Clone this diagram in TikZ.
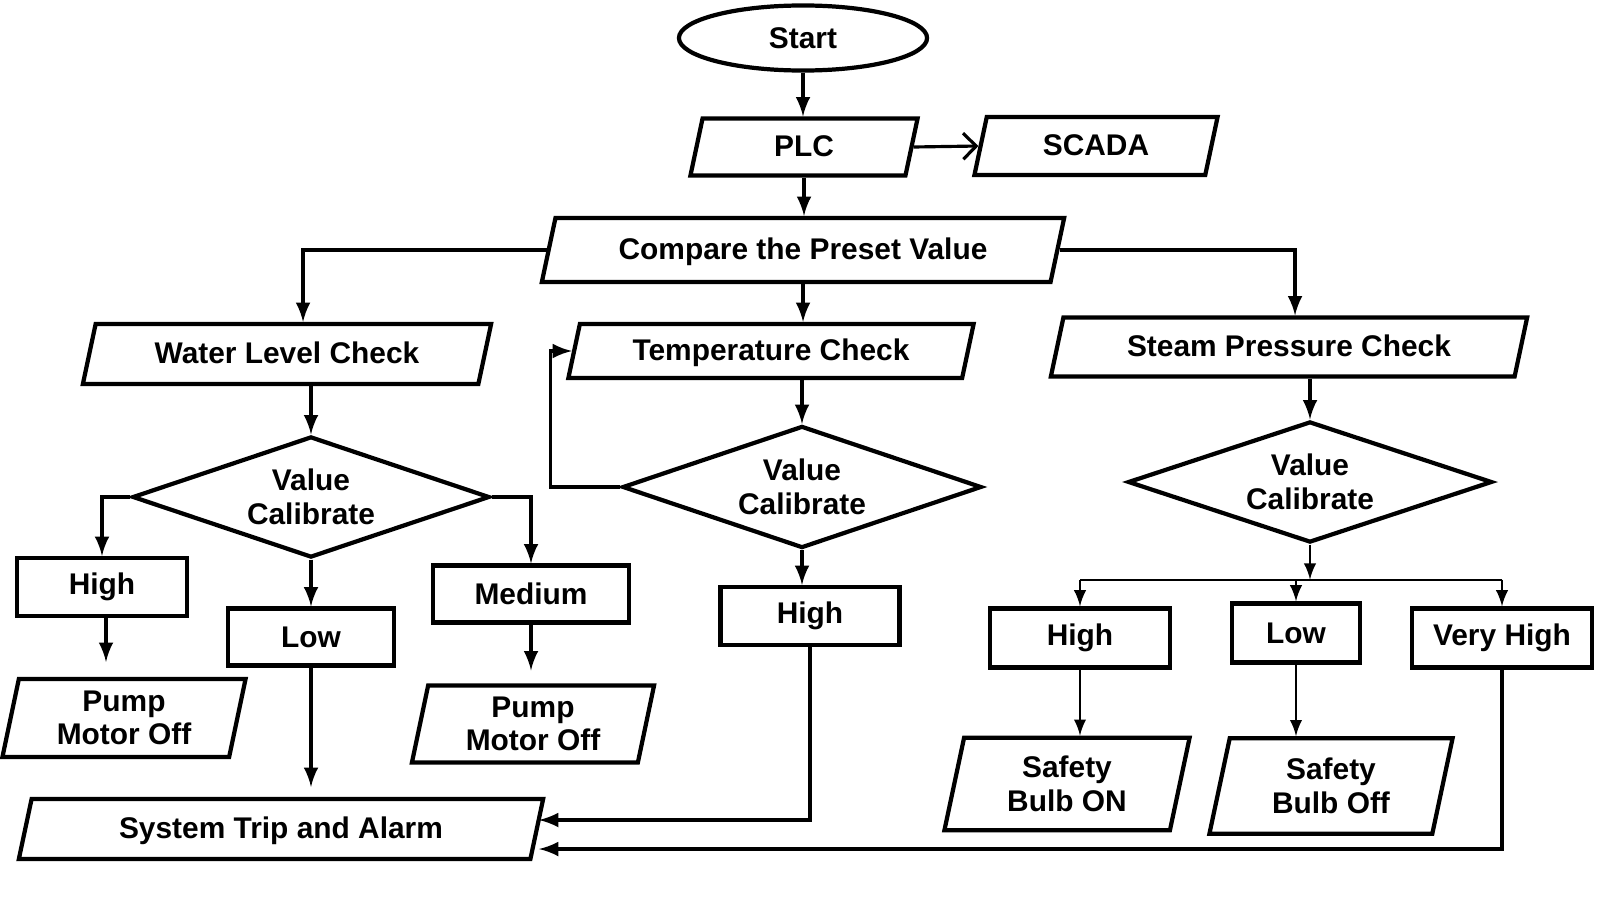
\documentclass[tikz,border=0pt]{standalone}
\usepackage{fontspec}
\setmainfont{Liberation Sans}
\usetikzlibrary{positioning, arrows, arrows.meta, shapes.geometric, calc}
\tikzset{
  terminal/.style={
    draw, ellipse, line width=1.2pt, inner sep=0pt
  },
  io/.style={
    draw, trapezium, trapezium left angle=78, trapezium right angle=102,
    trapezium stretches body, line width=1.2pt, inner xsep=0pt, align=center,
    text height=0.23cm, text depth=0.05cm
  },
  iotwo/.style={
    draw, trapezium, trapezium left angle=78, trapezium right angle=102,
    trapezium stretches body, line width=1.2pt, inner xsep=0pt, align=center
  },
  decision/.style={
    draw, diamond, aspect=3, line width=1.2pt, inner sep=0pt, align=center
  },
  level/.style={
    draw, rectangle, line width=1.2pt, inner sep=0pt, align=center
  },
  thinline/.style={line width=0.6pt}
}

\begin{document}
\begin{tikzpicture}[x=0.01cm, y=-0.01cm, -latex, line width=0.9pt,
    font=\bfseries\fontsize{8.5}{9.5}\selectfont]
    \useasboundingbox (0,0) rectangle (1600,900);

    % top part
    \node[terminal, minimum width=2.48cm, minimum height=0.65cm] (start) at (803,38) {Start};
    \node[io, minimum width=2.27cm, inner ysep=0.145cm] (plc) at (804,147) {PLC};
    \node[io, minimum width=2.43cm, inner ysep=0.15cm] (scada) at (1096,146) {SCADA};
    \node[io, minimum width=5.22cm, inner ysep=0.18cm] (cmp) at (803,250) {Compare the Preset Value};

    % the three checks
    \node[io, minimum width=4.08cm, inner ysep=0.16cm] (wlc) at (287,354) {Water Level Check};
    \node[io, minimum width=4.05cm, inner ysep=0.13cm] (tmp) at (771,351) {Temperature Check};
    \node[io, minimum width=4.76cm, inner ysep=0.155cm] (spc) at (1289,347) {Steam Pressure Check};

    \node[decision, minimum width=3.57cm, minimum height=1.21cm] (d1) at (311,497) {Value\\Calibrate};
    \node[decision, minimum width=3.59cm, minimum height=1.22cm] (d2) at (802,487) {Value\\Calibrate};
    \node[decision, minimum width=3.64cm, minimum height=1.21cm] (d3) at (1310,482) {Value\\Calibrate};

    % levels
    \node[level, minimum width=1.70cm, minimum height=0.58cm] (h1) at (102,587) {High};
    \node[level, minimum width=1.66cm, minimum height=0.57cm] (l1) at (311,637) {Low};
    \node[level, minimum width=1.96cm, minimum height=0.57cm] (m1) at (531,594) {Medium};
    \node[level, minimum width=1.79cm, minimum height=0.58cm] (h2) at (810,616) {High};
    \node[level, minimum width=1.80cm, minimum height=0.59cm] (h3) at (1080,638) {High};
    \node[level, minimum width=1.28cm, minimum height=0.59cm] (l3) at (1296,633) {Low};
    \node[level, minimum width=1.80cm, minimum height=0.59cm] (vh) at (1502,638) {Very High};

    % actions
    \node[iotwo, minimum width=2.43cm, minimum height=0.78cm, inner ysep=0.115cm] (pm1) at (124,718) {Pump\\Motor Off};
    \node[iotwo, minimum width=2.42cm, minimum height=0.77cm, inner ysep=0.11cm] (pm2) at (533,724) {Pump\\Motor Off};
    \node[io, minimum width=5.24cm, inner ysep=0.16cm] (sys) at (281,829) {System Trip and Alarm};
    \node[iotwo, minimum width=2.45cm, minimum height=0.92cm, inner ysep=0.185cm] (sb1) at (1067,784) {Safety\\Bulb ON};
    \node[iotwo, minimum width=2.43cm, minimum height=0.95cm, inner ysep=0.2cm] (sb2) at (1331,786) {Safety\\Bulb Off};

    \coordinate (split) at ($(d3.south)+(0,35)$);

    \draw (start.south) -- (start.south |- plc.north);
    \draw[-{Straight Barb[length=0.13cm, width=0.26cm]}] (plc.east) -- (scada.west);
    \draw (plc.south) -- (plc.south |- cmp.north);
    \draw (cmp.west) -| ([xshift=0.16cm]wlc.north);
    \draw (cmp.east) -| ([xshift=0.06cm]spc.north);
    \draw (cmp.south) -- (cmp.south |- tmp.north);

    \draw (d1.north |- wlc.south) -- (d1.north);
    \draw (d2.north |- tmp.south) -- (d2.north);
    \draw (d3.north |- spc.south) -- (d3.north);

    \draw (d1.west) -| (h1.north);
    \draw (d1.south) -- (l1.north);
    \draw (d1.east) -| (m1.north);
    \draw[shorten >=0.15cm] ([xshift=0.04cm]h1.south) -- ([xshift=0.04cm]h1.south |- pm1.north);
    \draw[shorten >=0.13cm] (m1.south) -- (m1.south |- pm2.north);
    \draw[shorten >=0.10cm] (l1.south) -- (l1.south |- sys.north);

    \draw (d2.west) -- ++(-70,0) |- (tmp.west);
    \draw (d2.south) -- (d2.south |- h2.north);
    \draw (h2.south) |- ([yshift=0.09cm]sys.east);

    \draw[thinline] (d3.south) -- (split);
    \draw[thinline, -] (h3.north |- split) -- (vh.north |- split);
    \draw[thinline] (h3.north |- split) -- (h3.north);
    \draw[thinline] (l3.north |- split) -- (l3.north);
    \draw[thinline] (vh.north |- split) -- (vh.north);
    \draw[thinline] (h3.south) -- (h3.south |- sb1.north);
    \draw[thinline] (l3.south) -- (l3.south |- sb2.north);
    \draw (vh.south) |- ([yshift=-0.2cm]sys.east);

\end{tikzpicture}
\end{document}
